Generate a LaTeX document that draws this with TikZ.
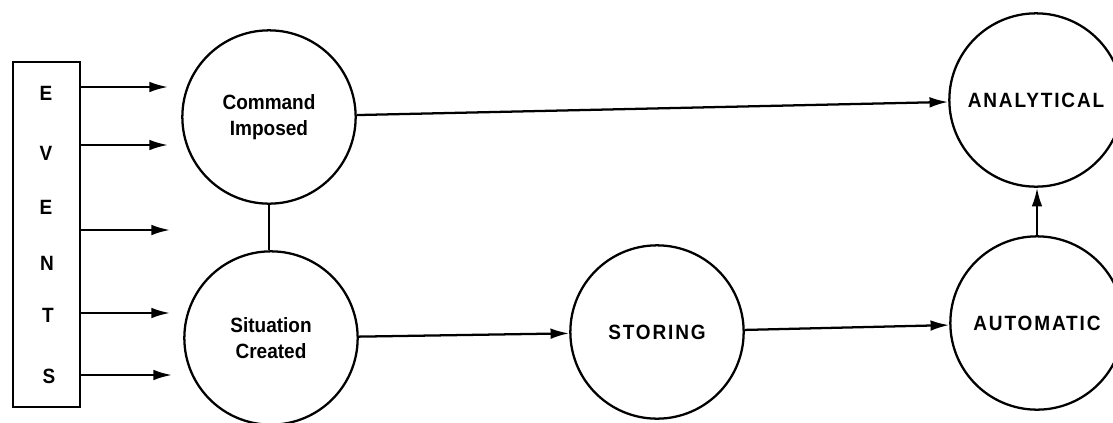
\documentclass[tikz,border=0pt]{standalone}
\usepackage{fontspec}
\setmainfont{Liberation Sans}[FakeStretch=0.92]
\usetikzlibrary{arrows.meta}
\begin{document}
\begin{tikzpicture}[x=0.75pt,y=-0.75pt,
  line width=1.7pt,
  state/.style={draw, circle, minimum size=130pt, inner sep=0pt, align=center,
    font=\fontsize{15.5}{19}\selectfont\bfseries},
  capsstate/.style={state, font=\fontsize{15.5}{19}\selectfont\bfseries\addfontfeature{LetterSpace=9}},
  letter/.style={font=\fontsize{15.5}{19}\selectfont\bfseries, inner sep=0pt},
  arr/.style={-{Latex[length=14pt,width=8pt]}}]
\useasboundingbox (0,0) rectangle (1113,422);
\node[draw, minimum width=50pt, minimum height=259pt, inner sep=0pt] (events) at (46.5,234.5) {};
\node[letter] (l1) at (46,93) {E};
\node[letter] (l2) at (46,153) {V};
\node[letter] (l3) at (46,207) {E};
\node[letter] (l4) at (47,263) {N};
\node[letter] (l5) at (48,315) {T};
\node[letter] (l6) at (49,376) {S};
\coordinate (e1) at (168,87);
\coordinate (e2) at (168,145);
\coordinate (e3) at (170,230);
\coordinate (e4) at (170,313);
\coordinate (e5) at (172,375);
\draw[arr] (events.east |- e1) -- (e1);
\draw[arr] (events.east |- e2) -- (e2);
\draw[arr] (events.east |- e3) -- (e3);
\draw[arr] (events.east |- e4) -- (e4);
\draw[arr] (events.east |- e5) -- (e5);
\node[state] (cmd) at (269,117) {Command\\Imposed};
\node[state] (sit) at (271,338) {Situation\\Created};
\node[capsstate] (sto) at (657,332) {STORING};
\node[capsstate] (ana) at (1036,100) {ANALYTICAL};
\node[capsstate] (aut) at (1037,323) {AUTOMATIC};
\draw (cmd.south) -- (cmd.south |- sit.north);
\draw[arr] (cmd) -- (ana);
\draw[arr] (sit) -- (sto);
\draw[arr] (sto) -- (aut);
\draw[arr] (aut.north) -- (aut.north |- ana.south);
\end{tikzpicture}
\end{document}
